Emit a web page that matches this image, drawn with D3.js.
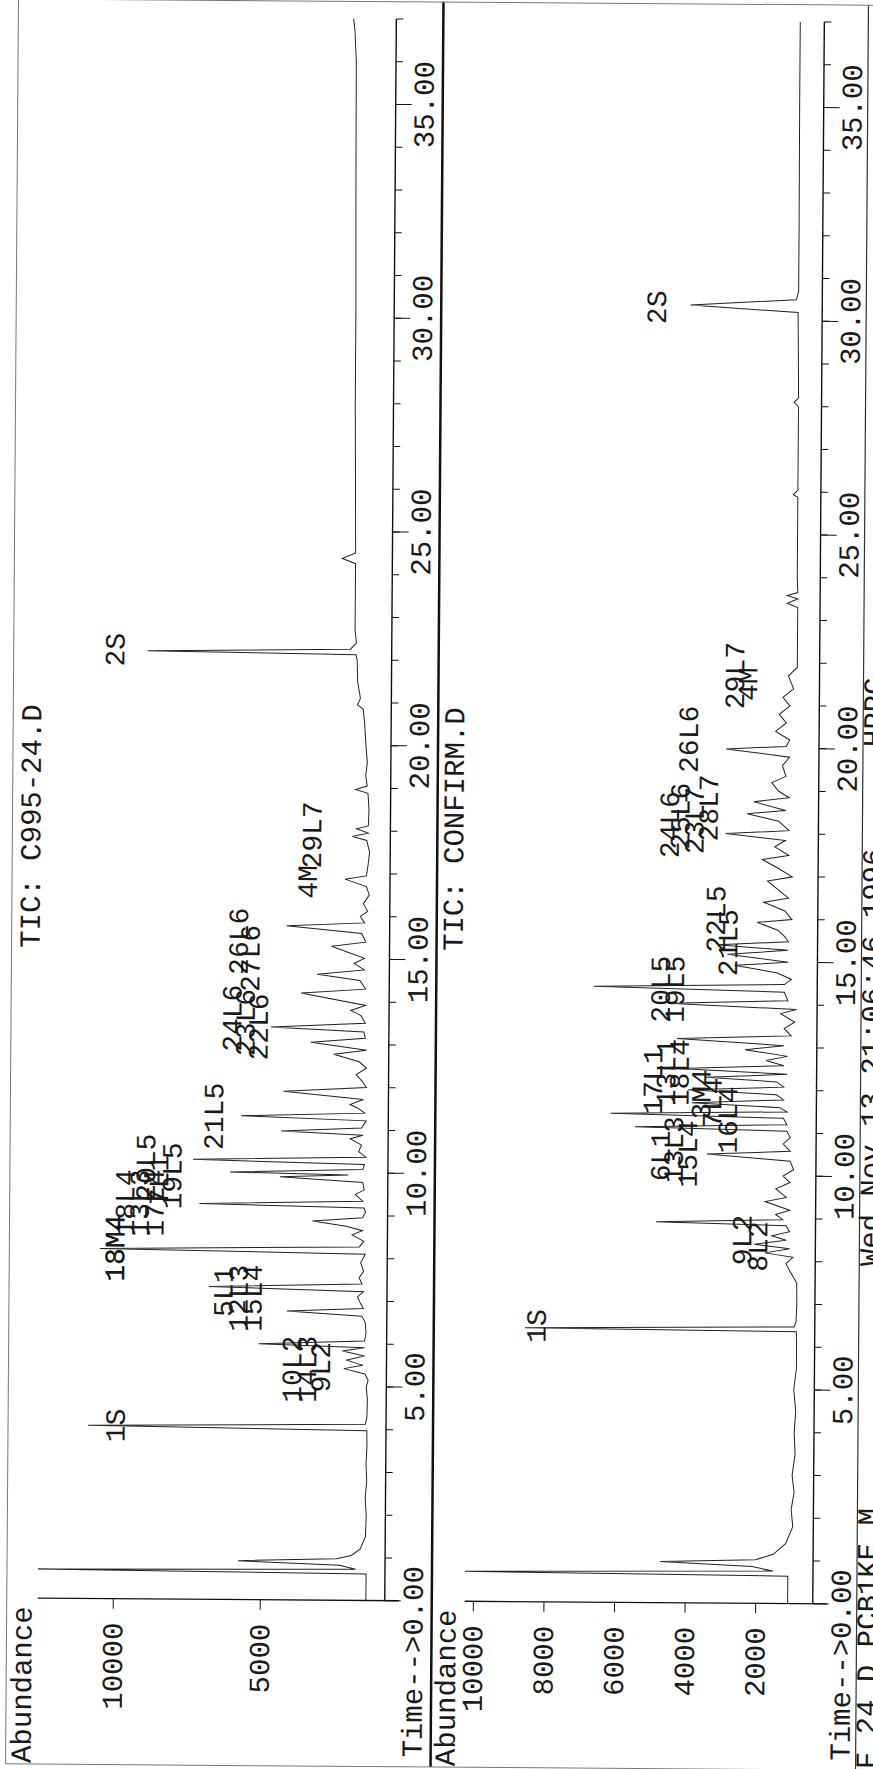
<!DOCTYPE html>
<html>
<head>
<meta charset="utf-8">
<script src="https://cdnjs.cloudflare.com/ajax/libs/d3/7.8.5/d3.min.js"></script>
<style>
html, body { margin: 0; padding: 0; background: #fff; }
svg text { font-family: "Liberation Mono", "DejaVu Sans Mono", monospace; fill: #1a1a1a; }
</style>
</head>
<body>
<div class="report"></div>
<script>

// retention time (min), abundance
var ticTop = [[0,1390],[0.62,1390],[0.68,12550],[0.73,1750],[0.82,2300],[0.91,5750],[0.97,2400],[1.05,1900],[1.2,1600],[1.5,1420],[2.0,1400],[2.4,1440],[2.8,1390],[3.2,1420],[3.6,1390],[3.97,1400],[4.05,10880],[4.12,1450],[4.3,1400],[4.7,1390],[5.0,1430],[5.15,1370],[5.3,1480],[5.42,2200],[5.5,1550],[5.62,2100],[5.72,1500],[5.83,2250],[5.91,1500],[5.99,5100],[6.07,1500],[6.25,1450],[6.5,1480],[6.65,1600],[6.76,4150],[6.83,1550],[6.95,1650],[7.1,1750],[7.22,1550],[7.32,6800],[7.40,1600],[7.55,1700],[7.7,1550],[7.9,1650],[8.1,1500],[8.19,10520],[8.27,1700],[8.4,1550],[8.55,1950],[8.65,1600],[8.75,2150],[8.87,3300],[8.95,1600],[9.08,1500],[9.18,1550],[9.26,7150],[9.34,1600],[9.5,1850],[9.6,1550],[9.78,1600],[9.9,4420],[9.95,2100],[10.0,6120],[10.08,1600],[10.2,1550],[10.29,7380],[10.37,1500],[10.5,1750],[10.65,1650],[10.8,2040],[10.88,1600],[10.97,4390],[11.05,1650],[11.22,1500],[11.32,5750],[11.4,1550],[11.52,1800],[11.6,2050],[11.72,1600],[11.9,4320],[12.0,1500],[12.15,1650],[12.3,1850],[12.45,1500],[12.6,1750],[12.77,2620],[12.87,1500],[13.05,3400],[13.15,1550],[13.3,1600],[13.4,4760],[13.5,1550],[13.68,1700],[13.8,2050],[13.92,1550],[14.2,3740],[14.3,1550],[14.5,1750],[14.64,3200],[14.75,1600],[14.9,1950],[15.02,1600],[15.3,2720],[15.4,1550],[15.6,1700],[15.77,4250],[15.85,1600],[16.0,1750],[16.12,1500],[16.3,1650],[16.5,1450],[16.7,1550],[16.87,2280],[16.95,1550],[17.2,1500],[17.5,1450],[17.78,1550],[17.87,2040],[17.95,1500],[18.05,1900],[18.12,1500],[18.5,1480],[18.88,1520],[18.97,1940],[19.05,1550],[19.3,1600],[19.6,1550],[20.0,1600],[20.5,1650],[20.85,1700],[20.95,1900],[21.1,1800],[21.5,1900],[22.0,1920],[22.12,1960],[22.18,9050],[22.25,2150],[22.4,1950],[22.7,2000],[23.5,2000],[24.25,2000],[24.37,2450],[24.5,2000],[26,2020],[28,2050],[30,2050],[33,2080],[36,2100],[36.7,2150],[37,2200]];

var ticBottom = [[0,1080],[0.64,1080],[0.70,10230],[0.76,1500],[0.86,2100],[0.96,4700],[1.02,2000],[1.15,1500],[1.4,1150],[1.8,950],[2.2,1000],[2.6,920],[3.0,980],[3.5,900],[4.0,930],[4.5,890],[5.0,950],[5.5,880],[6.0,880],[6.36,890],[6.41,8580],[6.47,950],[6.6,900],[7.0,880],[7.5,890],[7.8,1100],[7.95,1200],[8.1,1000],[8.2,1800],[8.3,1100],[8.4,2100],[8.5,1200],[8.6,1600],[8.7,1100],[8.84,1200],[8.91,4890],[8.98,1300],[9.1,1500],[9.2,1100],[9.4,1800],[9.5,1200],[9.7,1500],[9.85,1100],[10.0,1300],[10.15,1000],[10.35,1100],[10.5,3460],[10.58,1100],[10.75,1300],[10.9,1100],[11.05,1200],[11.13,5500],[11.2,1200],[11.35,1300],[11.44,6200],[11.5,1200],[11.6,1400],[11.7,3900],[11.78,1300],[11.9,1500],[12.0,4000],[12.08,1300],[12.2,1500],[12.3,3500],[12.38,1200],[12.5,4300],[12.58,1300],[12.7,1800],[12.8,1200],[12.95,2400],[13.05,1300],[13.2,4330],[13.28,1100],[13.45,1300],[13.6,1000],[13.8,1400],[13.9,950],[14.02,4590],[14.1,1200],[14.3,1300],[14.41,6700],[14.48,1300],[14.6,1100],[14.75,1500],[14.92,2720],[15.0,1200],[15.18,2920],[15.28,1200],[15.4,3200],[15.48,1200],[15.6,1300],[15.75,1500],[15.93,2080],[16.0,1100],[16.2,1300],[16.4,1900],[16.5,1200],[16.7,1500],[16.9,1800],[17.0,1100],[17.2,1500],[17.4,1950],[17.5,1200],[17.7,1600],[17.85,1300],[18.0,3000],[18.08,1200],[18.3,1500],[18.47,2390],[18.55,1300],[18.75,2200],[18.85,1200],[19.0,1500],[19.2,1700],[19.35,1300],[19.6,1400],[19.8,1200],[19.98,3000],[20.05,1300],[20.2,1200],[20.4,1600],[20.6,1300],[20.8,1500],[21.0,1200],[21.2,1400],[21.4,1100],[21.7,1250],[21.9,1000],[22.2,1000],[23.3,1000],[23.4,1300],[23.5,1000],[23.58,1300],[23.65,1000],[24,1020],[25.88,1020],[25.94,1150],[26.05,1020],[28.0,1020],[28.1,1150],[28.2,1020],[30.2,1050],[30.36,4100],[30.5,1100],[30.7,1040],[32,1040],[35,1050],[37,1050]];

// peak labels: text, time, abundance where the label sits
var labelsTop = [["1S",4.05,9970],["10L2",5.40,3980],["14L3",5.40,3470],["9L2",5.45,3000],
  ["5L1",7.20,6330],["12L3",7.05,5820],["15L4",7.05,5340],["18M4",8.20,10030],["13M4",8.20,10030],
  ["18L4",9.26,9700],["13L3",9.26,9200],["17L4",9.26,8700],["20L5",10.1,9000],["7L1",9.8,8550],["19L5",9.9,8100],
  ["21L5",11.3,6700],["24L6",13.6,6100],["23L6",13.5,5650],["22L6",13.4,5200],["26L6",15.4,5900],["27L6",15.0,5500],
  ["4M",16.8,3570],["29L7",17.9,3430],["2S",22.2,10170]];
var labelsBottom = [["1S",6.45,8270],["9L2",8.5,2460],["8L2",8.35,2010],
  ["6L1",10.45,4790],["13L3",10.6,4420],["15L4",10.5,4020],["17L1",12.2,5020],["13L1",12.4,4650],["18L4",12.4,4270],
  ["3M4",11.9,3650],["7L4",11.7,3340],["16L4",11.3,2890],["20L5",14.35,4820],["19L5",14.35,4420],
  ["22L5",16.0,3270],["21L5",15.45,2920],["24L6",18.2,4600],["25L6",18.4,4300],["23L7",18.3,3900],["28L7",18.6,3500],
  ["26L6",20.2,4080],["29L7",21.7,2780],["4M",21.5,2410],["2S",30.3,5070]];

var timeMajor = [0, 5, 10, 15, 20, 25, 30, 35];
var abundMajorTop = [5000, 10000];
var abundMajorBottom = [2000, 4000, 6000, 8000, 10000];
var titleTop = "TIC: C995-24.D";
var titleBottom = "TIC: CONFIRM.D";
var footer = ["F 24 D   PCB1KE M", "Wed Nov 13 21:06:46 1996", "HPPC"];

var W = 873, H = 1769;
var tMax = 37;
var fs = 29, fsPeak = 28;

var svg = d3.select("div.report").append("svg")
    .attr("width", W).attr("height", H);

// the printout is landscape, turned a quarter and slightly skewed by the scanner
var page = svg.append("g")
    .attr("transform", "rotate(0.42,436,885) translate(0," + H + ") rotate(-90)");

var x = d3.scaleLinear().domain([0, tMax]).range([168, 168 + tMax * 42.75]);

var panels = [
  {id: "a", trace: ticTop, labels: labelsTop, title: titleTop, axisY: 390, dom: [748, 12550], rng: [390, 43],
   major: abundMajorTop, minor: d3.range(1000, 12001, 1000), titleY: 40, abY: 37},
  {id: "b", trace: ticBottom, labels: labelsBottom, title: titleBottom, axisY: 818, dom: [368, 10230], rng: [818, 470],
   major: abundMajorBottom, minor: d3.range(500, 10001, 500), titleY: 463, abY: 461}
];

// frame
page.append("line").attr("x1", 2).attr("x2", 1767).attr("y1", 12).attr("y2", 12)
    .attr("stroke", "#777").attr("stroke-width", 1);
page.append("line").attr("x1", 2).attr("x2", 1767).attr("y1", 437).attr("y2", 437)
    .attr("stroke", "#111").attr("stroke-width", 2.5);
page.append("line").attr("x1", 2).attr("x2", 1767).attr("y1", 862).attr("y2", 862)
    .attr("stroke", "#333").attr("stroke-width", 1.2);
page.append("line").attr("x1", 2).attr("x2", 2).attr("y1", 12).attr("y2", 873)
    .attr("stroke", "#777").attr("stroke-width", 1);
page.append("line").attr("x1", 1767).attr("x2", 1767).attr("y1", 12).attr("y2", 873)
    .attr("stroke", "#777").attr("stroke-width", 1);

panels.forEach(function(p) {
  var y = d3.scaleLinear().domain(p.dom).range(p.rng).clamp(true);
  var g = page.append("g").attr("class", "panel " + p.id);

  g.append("clipPath").attr("id", "clip-" + p.id)
    .append("rect").attr("x", x(0)).attr("y", p.rng[1])
    .attr("width", x(tMax) - x(0)).attr("height", p.rng[0] - p.rng[1]);

  var line = d3.line()
      .x(function(d) { return x(d[0]); })
      .y(function(d) { return y(d[1]); });

  g.append("path")
      .attr("clip-path", "url(#clip-" + p.id + ")")
      .attr("fill", "none")
      .attr("stroke", "#222")
      .attr("stroke-width", 1)
      .attr("d", line(p.trace));

  // abundance axis
  var minorAxis = d3.axisLeft(y).tickValues(p.minor).tickSize(5).tickFormat("");
  var majorAxis = d3.axisLeft(y).tickValues(p.major).tickSize(10).tickPadding(14).tickFormat(d3.format("d"));
  var ya = g.append("g").attr("transform", "translate(" + x(0) + ",0)");
  ya.call(minorAxis);
  ya.call(majorAxis);
  ya.selectAll(".domain").remove();
  ya.append("line").attr("y1", p.rng[1]).attr("y2", p.rng[0] + 14)
    .attr("stroke", "#111").attr("stroke-width", 1.3);
  ya.selectAll("line").attr("stroke", "#111");
  ya.selectAll("text").attr("font-size", fs).attr("font-family", null).attr("fill", "#1a1a1a");

  // time axis
  var ta = g.append("g");
  ta.append("line").attr("x1", x(0)).attr("x2", x(tMax))
    .attr("y1", p.axisY).attr("y2", p.axisY)
    .attr("stroke", "#111").attr("stroke-width", 1.4);
  ta.selectAll("line.minor").data(d3.range(1, tMax + 1)).enter().append("line")
    .attr("class", "minor")
    .attr("x1", function(d) { return x(d); }).attr("x2", function(d) { return x(d); })
    .attr("y1", p.axisY).attr("y2", p.axisY + 7)
    .attr("stroke", "#111").attr("stroke-width", 1);
  ta.selectAll("line.major").data(timeMajor).enter().append("line")
    .attr("class", "major")
    .attr("x1", function(d) { return x(d); }).attr("x2", function(d) { return x(d); })
    .attr("y1", p.axisY).attr("y2", p.axisY + 16)
    .attr("stroke", "#111").attr("stroke-width", 1);
  ta.selectAll("text.tl").data(timeMajor.slice(1)).enter().append("text")
    .attr("class", "tl")
    .attr("x", function(d) { return x(d); })
    .attr("y", p.axisY + 38)
    .attr("text-anchor", "middle")
    .attr("font-size", fs)
    .text(function(d) { return d3.format(".2f")(d); });
  ta.append("text")
    .attr("x", x(0) + 2 * 0.6 * fs).attr("y", p.axisY + 38)
    .attr("text-anchor", "end").attr("font-size", fs)
    .text("Time-->0.00");

  g.append("text").attr("x", 3).attr("y", p.abY).attr("font-size", fs).text("Abundance");
  g.append("text").attr("x", 940).attr("y", p.titleY)
    .attr("text-anchor", "middle").attr("font-size", fs).text(p.title);

  // peak labels
  g.selectAll("text.pk").data(p.labels).enter().append("text")
    .attr("class", "pk")
    .attr("x", function(d) { return x(d[1]); })
    .attr("y", function(d) { return y(d[2]); })
    .attr("dy", "0.35em")
    .attr("text-anchor", "middle")
    .attr("font-size", fsPeak)
    .text(function(d) { return d[0]; });
});

// footer, half cut off by the edge of the scan
page.append("text").attr("x", 3).attr("y", 882).attr("font-size", fs).text(footer[0]);
page.append("text").attr("x", 506).attr("y", 882).attr("font-size", fs).text(footer[1]);
page.append("text").attr("x", 1025).attr("y", 882).attr("font-size", fs).text(footer[2]);

</script>
</body>
</html>
